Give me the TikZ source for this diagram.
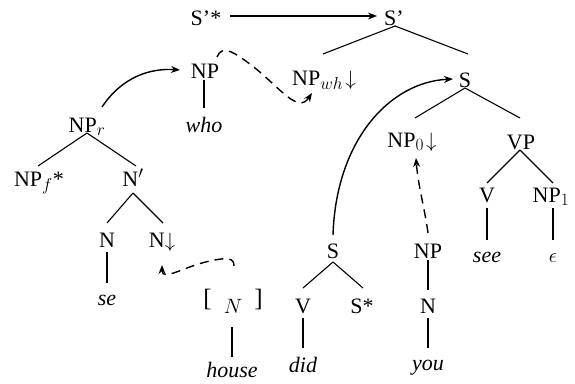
\documentclass[tikz,border=0pt]{standalone}
\usepackage{fontspec}
\setmainfont{Liberation Serif}
\DeclareMathSizes{22}{22}{16}{12}
\usetikzlibrary{calc,arrows.meta}
\begin{document}
\begin{tikzpicture}[x=1pt,y=-1pt,
  lbl/.style={anchor=base,inner sep=0pt,font=\fontsize{22}{26}\selectfont},
  brn/.style={line width=1.1pt},
  una/.style={line width=2.4pt},
  arr/.style={-{Stealth[length=9pt,width=7pt]},line width=1.4pt},
  dsh/.style={arr,dash pattern=on 9pt off 6pt}]
\useasboundingbox (0,0) rectangle (575,383);
% nodes
\node[lbl] (Sps) at (206,25) {S'*};
\node[lbl] (Sp) at (394,25) {S'};
\node[lbl] (NPw) at (205,78) {NP};
\node[lbl] (who) at (204,132) {\itshape who};
\node[lbl] (NPr) at (87,132) {NP$_r$};
\node[lbl] (NPf) at (39,186) {NP$_f$*};
\node[lbl] (Np) at (133,186) {N$'$};
\node[lbl] (Nse) at (107,247) {N};
\node[lbl] (Nd) at (162,247) {N$\downarrow$};
\node[lbl] (se) at (107,305) {\itshape se};
\node[lbl] (hN) at (233,306) {{\fontsize{25}{28}\selectfont[}\hspace{0.55em}\raisebox{-7pt}{$N$}\hspace{0.55em}{\fontsize{25}{28}\selectfont]}};
\node[lbl] (house) at (232,377) {\itshape house};
\node[lbl] (St) at (465,87) {S};
\node[lbl] (NPwh) at (324,85) {NP$_{wh}\!\downarrow$};
\node[lbl] (NP0) at (412,147) {NP$_0\!\downarrow$};
\node[lbl] (VP) at (521,149) {VP};
\node[lbl] (Vs) at (487,202) {V};
\node[lbl] (NP1) at (551,202) {NP$_1$};
\node[lbl] (see) at (487,262) {\itshape see};
\node[lbl] (eps) at (553,262) {$\epsilon$};
\node[lbl] (Sl) at (333,258) {S};
\node[lbl] (Vd) at (303,313) {V};
\node[lbl] (Ss) at (362,313) {S*};
\node[lbl] (did) at (303,372) {\itshape did};
\node[lbl] (NPy) at (428,258) {NP};
\node[lbl] (Ny) at (428,313) {N};
\node[lbl] (you) at (428,370) {\itshape you};
% branches
\draw[brn] ($(Sp.base)+(1,1)$) -- ($(NPwh.base)+(-1,-31)$);
\draw[brn] ($(Sp.base)+(1,1)$) -- ($(St.base)+(3,-33)$);
\draw[brn] ($(St.base)+(0,1)$) -- ($(NP0.base)+(3,-29)$);
\draw[brn] ($(St.base)+(0,1)$) -- ($(VP.base)+(-1,-31)$);
\draw[brn] ($(VP.base)+(-1,1)$) -- ($(Vs.base)+(0,-19)$);
\draw[brn] ($(VP.base)+(-1,1)$) -- ($(NP1.base)+(2,-19)$);
\draw[brn] ($(NPr.base)+(0,1)$) -- ($(NPf.base)+(-1,-20)$);
\draw[brn] ($(NPr.base)+(0,1)$) -- ($(Np.base)+(3,-20)$);
\draw[brn] ($(Np.base)+(0,7)$) -- ($(Nse.base)+(0,-24)$);
\draw[brn] ($(Np.base)+(0,7)$) -- ($(Nd.base)+(1,-24)$);
\draw[brn] ($(Sl.base)+(0,4)$) -- ($(Vd.base)+(0,-25)$);
\draw[brn] ($(Sl.base)+(0,4)$) -- ($(Ss.base)+(1,-25)$);
% unary
\draw[una] ($(NPw.base)+(-1,2)$) -- ($(who.base)+(0,-24)$);
\draw[una] ($(Nse.base)+(0,5)$) -- ($(se.base)+(0,-22)$);
\draw[una] ($(hN.base)+(-1,21)$) -- ($(house.base)+(0,-20)$);
\draw[una] ($(Vd.base)+(0,5)$) -- ($(did.base)+(0,-24)$);
\draw[una] ($(Ny.base)+(0,5)$) -- ($(you.base)+(0,-22)$);
\draw[una] ($(Vs.base)+(0,6)$) -- ($(see.base)+(0,-22)$);
\draw[una] ($(NP1.base)+(2,6)$) -- ($(eps.base)+(0,-22)$);
\draw[brn,line width=1.3pt] ($(NPy.base)+(0,2)$) -- ($(Ny.base)+(0,-23)$);
% arrows
\draw[arr] ($(Sps.base)+(24,-9)$) -- ($(Sp.base)+(-17,-9)$);
\draw[arr] ($(NPr.base)+(15,-25)$) .. controls (122,77) and (150,68) .. ($(NPw.base)+(-25,-8)$);
\draw[dsh] ($(NPw.base)+(12,-21)$) .. controls (222,45) and (232,50) .. (255,68) .. controls (280,88) and (298,114) .. ($(NPwh.base)+(-12,8)$);
\draw[dsh] ($(hN.base)+(1,-40)$) .. controls (234,258) and (228,257) .. (210,261) .. controls (185,266) and (162,282) .. ($(Nd.base)+(0,18)$);
\draw[arr] ($(Sl.base)+(0,-23)$) .. controls (336,140) and (390,82) .. ($(St.base)+(-12,-8)$);
\draw[dsh] ($(NPy.base)+(0,-25)$) .. controls (425,210) and (418,185) .. ($(NP0.base)+(4,11)$);
\end{tikzpicture}
\end{document}
